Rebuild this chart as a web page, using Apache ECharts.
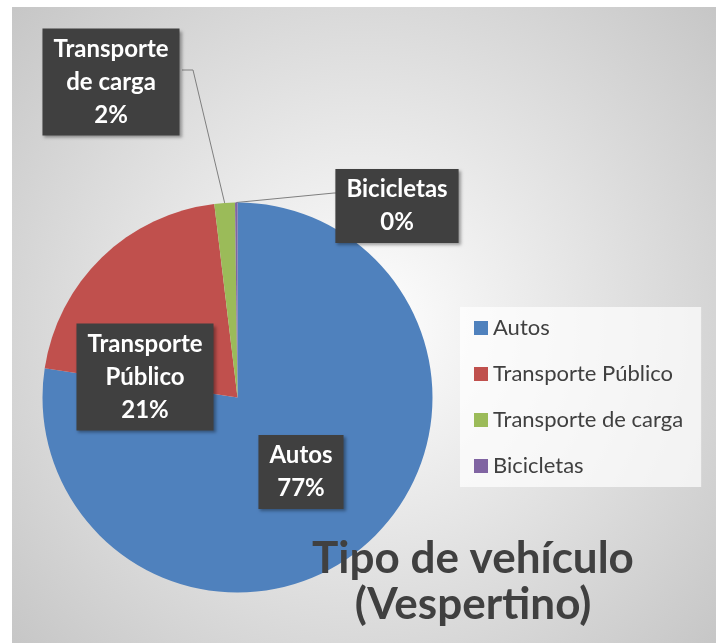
<!DOCTYPE html>
<html>
<head>
<meta charset="utf-8">
<script src="https://cdn.jsdelivr.net/npm/echarts@6/dist/echarts.min.js"></script>
<style>
  html, body { margin: 0; padding: 0; background: #fff; }
  #main { width: 720px; height: 643px; }
</style>
</head>
<body>
<div id="main"></div>
<script>
const categorias = ['Autos', 'Transporte Público', 'Transporte de carga', 'Bicicletas']
const valores = [77.4, 20.7, 1.7, 0.2]
const colores = ['#4f81bd', '#c0504d', '#9bbb59', '#8064a2']
const titulo = 'Tipo de vehículo\n(Vespertino)'

const myChart = echarts.init(document.getElementById('main'))

// posiciones de las etiquetas (como en el original de Excel)
const posEtiquetas = {
    0: { x: 301, y: 472 },
    1: { x: 145, y: 377 },
    2: { x: 111, y: 82, linea: [[193, 70], [182, 70]] },
    3: { x: 397, y: 206, linea: [[334, 193], [336, 193]] }
}

myChart.setOption({
    //fondo con degradado radial
    graphic: [{
        type: 'rect',
        z: -10,
        silent: true,
        shape: { x: 12, y: 7, width: 704, height: 636 },
        style: {
            fill: {
                type: 'radial', x: 0.5, y: 0.5, r: 0.75,
                colorStops: [
                    { offset: 0, color: '#ffffff' },
                    { offset: 1, color: '#c6c6c6' }
                ]
            }
        }
    }],
    title: {
        text: titulo,
        left: 473,
        top: 536,
        padding: 0,
        textAlign: 'center',
        textStyle: {
            fontFamily: 'Lato',
            fontWeight: 'bold',
            fontSize: 44,
            lineHeight: 46,
            color: '#404040'
        }
    },
    legend: {
        orient: 'vertical',
        left: 460,
        top: 307,
        padding: [10, 18, 10, 14],
        backgroundColor: 'rgba(255,255,255,0.7)',
        itemWidth: 14,
        itemHeight: 14,
        itemGap: 24,
        icon: 'rect',
        selectedMode: false,
        data: categorias,
        textStyle: {
            fontFamily: 'Lato',
            fontSize: 22,
            lineHeight: 22,
            color: '#404040'
        }
    },
    series: [{
        type: 'pie',
        center: [237.5, 397.5],
        radius: 195,
        startAngle: 90,
        clockwise: true,
        avoidLabelOverlap: false,
        percentPrecision: 0,
        color: colores,
        label: {
            show: true,
            formatter: (p) => p.name.replace(' ', '\n') + '\n' + p.percent + '%',
            fontFamily: 'Lato',
            fontWeight: 'bold',
            fontSize: 24,
            lineHeight: 33,
            color: '#ffffff',
            align: 'center',
            backgroundColor: '#404040',
            padding: [4, 11, 4, 11],
            shadowColor: 'rgba(0,0,0,0.35)',
            shadowBlur: 3,
            shadowOffsetX: 2,
            shadowOffsetY: 2
        },
        labelLine: {
            show: true,
            lineStyle: { color: '#7f7f7f', width: 1 }
        },
        labelLayout: (params) => {
            const pos = posEtiquetas[params.dataIndex]
            if (!pos) return {}
            const res = { x: pos.x, y: pos.y, align: 'center', verticalAlign: 'middle' }
            if (pos.linea && params.labelLinePoints) {
                res.labelLinePoints = [params.labelLinePoints[0], pos.linea[0], pos.linea[1]]
            }
            return res
        },
        data: categorias.map((c, i) => ({
            name: c,
            value: valores[i],
            label: { position: i < 2 ? 'inside' : 'outside' },
            labelLine: { show: i >= 2 }
        }))
    }]
})
</script>
</body>
</html>
